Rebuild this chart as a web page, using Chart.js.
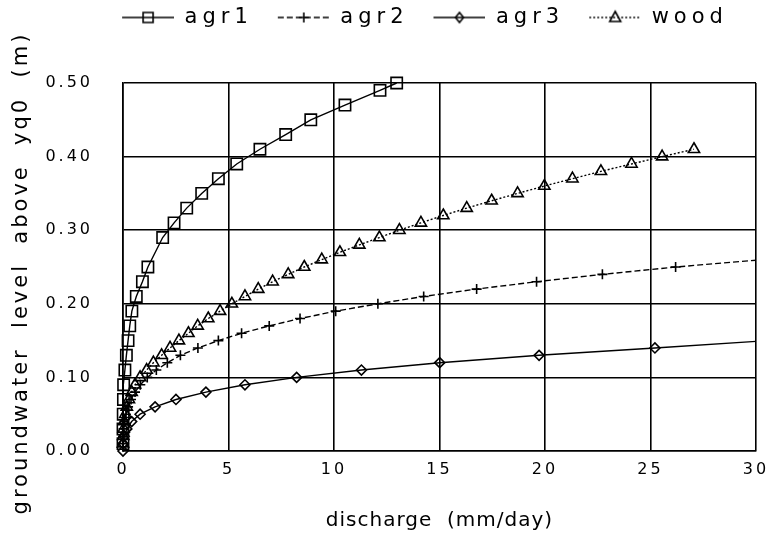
<!DOCTYPE html>
<html><head><meta charset="utf-8">
<script src="https://cdn.jsdelivr.net/npm/chart.js@4.4.1/dist/chart.umd.min.js"></script>
<style>html,body{margin:0;padding:0;background:#fff}</style>
</head><body>
<canvas id="c" width="772" height="547" style="width:772px;height:547px;display:block"></canvas>
<script>
// ---- data ----
const seriesNames = ['agr1', 'agr2', 'agr3', 'wood'];

const agr1X = [0.00,0.00,0.01,0.02,0.03,0.09,0.16,0.24,0.32,0.42,0.63,0.92,1.18,1.88,2.42,3.02,3.73,4.52,5.39,6.49,7.71,8.90,10.52,12.18,12.97];
const agr1Y = [0.01,0.03,0.05,0.07,0.09,0.11,0.13,0.15,0.17,0.19,0.21,0.23,0.25,0.29,0.31,0.33,0.35,0.37,0.39,0.41,0.43,0.45,0.47,0.49,0.50];

const agr2X = [0.00,0.01,0.03,0.07,0.14,0.24,0.38,0.57,0.82,1.15,1.58,2.10,2.72,3.55,4.52,5.62,6.93,8.39,10.08,12.08,14.25,16.76,19.60,22.72,26.19,30.30];
const agr2Y = [0.01,0.02,0.03,0.04,0.05,0.06,0.07,0.08,0.09,0.10,0.11,0.12,0.13,0.14,0.15,0.16,0.17,0.18,0.19,0.20,0.21,0.22,0.23,0.24,0.25,0.26];

const agr3X = [0.00,0.01,0.06,0.18,0.41,0.81,1.52,2.51,3.93,5.78,8.23,11.30,15.01,19.72,25.21,30.60];
const agr3Y = [0.00,0.01,0.02,0.03,0.04,0.05,0.06,0.07,0.08,0.09,0.10,0.11,0.12,0.13,0.14,0.15];

const woodX = [0.00,0.01,0.03,0.06,0.11,0.18,0.28,0.41,0.57,0.81,1.12,1.44,1.83,2.23,2.65,3.10,3.54,4.04,4.60,5.16,5.78,6.41,7.09,7.83,8.59,9.42,10.28,11.20,12.15,13.10,14.12,15.18,16.29,17.47,18.70,19.97,21.30,22.65,24.10,25.55,27.06];
const woodY = [0.01,0.02,0.03,0.04,0.05,0.06,0.07,0.08,0.09,0.10,0.11,0.12,0.13,0.14,0.15,0.16,0.17,0.18,0.19,0.20,0.21,0.22,0.23,0.24,0.25,0.26,0.27,0.28,0.29,0.30,0.31,0.32,0.33,0.34,0.35,0.36,0.37,0.38,0.39,0.40,0.41];

const xTicks = [0, 5, 10, 15, 20, 25, 30];
const yTicks = [0.0, 0.1, 0.2, 0.3, 0.4, 0.5];

const xTitle = 'discharge  (mm/day)';
const yTitle = 'groundwater  level  above  yq0  (m)';

// ---- helpers ----
const zip = (xs, ys) => xs.map((x, i) => ({x: x, y: ys[i]}));
const FONT = 'DejaVu Sans';
const LS = '3px';
const LEGEND_LS = '5px';
const XTITLE_LS = '1px';
const GAP = 18;   // transparent space in front of each legend symbol

function makeSymbol(kind, dash) {
  const c = document.createElement('canvas');
  c.width = 52 + GAP; c.height = 18;
  const g = c.getContext('2d');
  g.strokeStyle = '#000';
  g.lineWidth = 1.4;
  g.setLineDash(dash);
  g.beginPath(); g.moveTo(GAP, 9); g.lineTo(GAP + 52, 9); g.stroke();
  g.setLineDash([]);
  g.lineWidth = 1.6;
  g.beginPath();
  const cx = GAP + 26, cy = 9;
  if (kind === 'rect') { g.rect(cx - 5, cy - 5, 10, 10); }
  else if (kind === 'cross') { g.moveTo(cx - 5, cy); g.lineTo(cx + 5, cy); g.moveTo(cx, cy - 5); g.lineTo(cx, cy + 5); }
  else if (kind === 'rectRot') { g.moveTo(cx - 4, cy); g.lineTo(cx, cy - 5); g.lineTo(cx + 4, cy); g.lineTo(cx, cy + 5); g.closePath(); }
  else if (kind === 'triangle') { g.moveTo(cx, cy - 6); g.lineTo(cx + 5.5, cy + 4); g.lineTo(cx - 5.5, cy + 4); g.closePath(); }
  g.stroke();
  return c;
}

const styles = [
  {pointStyle: 'rect', radius: 8, dash: []},
  {pointStyle: 'cross', radius: 5, dash: [6, 3]},
  {pointStyle: 'rectRot', radius: 5, dash: []},
  {pointStyle: 'triangle', radius: 6.5, dash: [2, 2]}
];
const legendSymbols = styles.map(s => makeSymbol(s.pointStyle, s.dash));

const seriesData = [zip(agr1X, agr1Y), zip(agr2X, agr2Y), zip(agr3X, agr3Y), zip(woodX, woodY)];

const datasets = seriesNames.map((name, i) => ({
  label: name,
  data: seriesData[i],
  borderColor: '#000',
  borderWidth: 1.4,
  borderDash: styles[i].dash,
  pointStyle: styles[i].pointStyle,
  pointRadius: styles[i].radius,
  pointBorderWidth: 1.6,
  pointBorderColor: '#000',
  pointBackgroundColor: 'rgba(0,0,0,0)',
  tension: 0,
  fill: false,
  clip: {left: 12, top: 12, right: 0, bottom: 12}
}));

function withSpacing(obj, name, ls) {
  const orig = obj[name];
  obj[name] = function () {
    const c = this.ctx;
    const old = c.letterSpacing;
    c.letterSpacing = ls;
    const r = orig.apply(this, arguments);
    c.letterSpacing = old;
    return r;
  };
}

const tweaks = {
  id: 'tweaks',
  beforeLayout(chart) {
    chart.ctx.letterSpacing = LS;
    const lg = chart.legend;
    if (lg && !lg._patched) {
      withSpacing(lg, 'fit', LEGEND_LS);
      withSpacing(lg, 'draw', LEGEND_LS);
      lg._patched = true;
    }
  },
  afterLayout(chart) {
    const lg = chart.legend;
    lg.left += 30; lg.right += 30;
    const dy = lg.top - 0;   // move the legend to the top edge of the canvas
    lg.top -= dy; lg.bottom -= dy;
  },
  beforeDraw(chart) {
    chart.ctx.letterSpacing = LS;
    const s = chart.scales.y;
    if (!s._titlePatched) {
      const orig = s.drawTitle;
      s.drawTitle = function () {
        const t = this.top, b = this.bottom;
        this.top = t - 100 + 6; this.bottom = b + 100 + 6;
        orig.call(this);
        this.top = t; this.bottom = b;
      };
      s._titlePatched = true;
    }
    const sx = chart.scales.x;
    if (!sx._titlePatched) {
      withSpacing(sx, 'drawTitle', XTITLE_LS);
      sx._titlePatched = true;
    }
  }
};

new Chart(document.getElementById('c'), {
  type: 'line',
  data: {datasets: datasets},
  plugins: [tweaks],
  options: {
    responsive: false,
    animation: false,
    devicePixelRatio: 1,
    layout: {padding: 0},
    plugins: {
      tooltip: {enabled: false},
      legend: {
        position: 'top',
        maxHeight: 70,
        labels: {
          usePointStyle: true,
          pointStyleWidth: 52 + GAP,
          padding: 7,
          color: '#000',
          font: {family: FONT, size: 21},
          generateLabels: () => seriesNames.map((n, i) => ({
            text: n, pointStyle: legendSymbols[i], datasetIndex: i,
            fillStyle: 'rgba(0,0,0,0)', strokeStyle: '#000', lineWidth: 0, hidden: false, fontColor: '#000'
          }))
        }
      }
    },
    scales: {
      x: {
        type: 'linear', min: 0, max: 30,
        afterBuildTicks: ax => { ax.ticks = xTicks.map(v => ({value: v})); },
        afterFit: ax => { ax.height = 96; ax.paddingRight = 16; },
        grid: {color: '#000', lineWidth: 1.6, drawTicks: false},
        border: {color: '#000', width: 1.6},
        ticks: {color: '#000', padding: 9, maxRotation: 0, font: {family: FONT, size: 16}, callback: v => String(v)},
        title: {display: true, text: xTitle, color: '#000', font: {family: FONT, size: 20}, padding: {top: 0, bottom: 14}}
      },
      y: {
        type: 'linear', min: 0, max: 0.5,
        afterBuildTicks: ax => { ax.ticks = yTicks.map(v => ({value: v})); },
        afterFit: ax => { ax.width = 123; ax.paddingTop = 83; },
        grid: {color: '#000', lineWidth: 1.6, drawTicks: false},
        border: {color: '#000', width: 1.6},
        ticks: {color: '#000', padding: 30, font: {family: FONT, size: 16}, callback: v => Number(v).toFixed(2)},
        title: {display: true, text: yTitle, color: '#000', font: {family: FONT, size: 21}, padding: {top: 9, bottom: 0}}
      }
    }
  }
});
</script>
</body></html>
